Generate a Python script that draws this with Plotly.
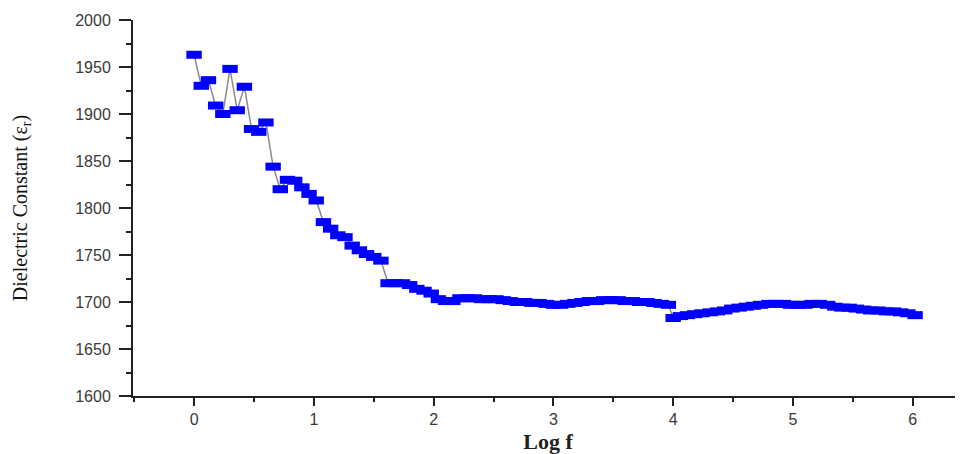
import plotly.graph_objects as go

# Log f values (first sweep up to 10 kHz, second sweep from 10 kHz)
log_f_low = [0.00, 0.06, 0.12, 0.18, 0.24, 0.30, 0.36, 0.42, 0.48, 0.54,
             0.60, 0.66, 0.72, 0.78, 0.84, 0.90, 0.96, 1.02, 1.08, 1.14,
             1.20, 1.26, 1.32, 1.38, 1.44, 1.50, 1.56, 1.62, 1.68, 1.74,
             1.80, 1.86, 1.92, 1.98, 2.04, 2.10, 2.16, 2.22, 2.28, 2.34,
             2.40, 2.46, 2.52, 2.58, 2.64, 2.70, 2.76, 2.82, 2.88, 2.94,
             3.00, 3.06, 3.12, 3.18, 3.24, 3.30, 3.36, 3.42, 3.48, 3.54,
             3.60, 3.66, 3.72, 3.78, 3.84, 3.90, 3.96]
eps_low = [1963, 1930, 1936, 1909, 1900, 1948, 1904, 1929, 1884, 1881,
           1891, 1844, 1820, 1830, 1829, 1822, 1815, 1808, 1785, 1778,
           1771, 1769, 1760, 1755, 1751, 1748, 1744, 1720, 1720, 1720,
           1718, 1714, 1712, 1709, 1703, 1701, 1701, 1704, 1704, 1704,
           1703, 1703, 1703, 1702, 1701, 1700, 1700, 1699, 1699, 1698,
           1697, 1697, 1698, 1699, 1700, 1701, 1701, 1702, 1702, 1702,
           1701, 1701, 1700, 1700, 1699, 1698, 1697]

log_f_high = [4.00, 4.06, 4.12, 4.18, 4.24, 4.31, 4.37, 4.43, 4.49, 4.55,
              4.61, 4.67, 4.73, 4.80, 4.86, 4.92, 4.98, 5.04, 5.10, 5.16,
              5.22, 5.29, 5.35, 5.41, 5.47, 5.53, 5.59, 5.65, 5.71, 5.78,
              5.84, 5.90, 5.96, 6.02]
eps_high = [1683, 1685, 1686, 1687, 1688, 1689, 1690, 1691, 1693, 1694,
            1695, 1696, 1697, 1698, 1698, 1698, 1697, 1697, 1697, 1698,
            1698, 1697, 1695, 1694, 1694, 1693, 1692, 1691, 1691, 1690,
            1690, 1689, 1688, 1686]

x_ticks = [0, 1, 2, 3, 4, 5, 6]
y_ticks = [1600, 1650, 1700, 1750, 1800, 1850, 1900, 1950, 2000]

x_all = log_f_low + log_f_high
y_all = eps_low + eps_high

fig = go.Figure()
fig.add_trace(go.Scatter(
    x=x_all, y=y_all, mode="lines",
    line=dict(color="#8a8a8a", width=1.5),
    showlegend=False, hoverinfo="skip"))
fig.add_trace(go.Scatter(
    x=x_all, y=y_all, mode="markers",
    marker=dict(symbol="line-ew", size=11,
                line=dict(color="#0000FF", width=8)),
    showlegend=False))

tick_font = dict(family="Liberation Sans, Arial, sans-serif", size=16, color="#3a3a3a")

fig.update_layout(
    width=955, height=446,
    margin=dict(l=125, r=0, t=12, b=56),
    paper_bgcolor="white", plot_bgcolor="white",
    xaxis=dict(
        range=[-0.51, 6.42], tickvals=x_ticks, ticktext=[str(v) for v in x_ticks],
        showgrid=False, zeroline=False, showline=True, linecolor="#222222", linewidth=2,
        ticks="outside", ticklen=8, tickwidth=2, tickcolor="#222222",
        minor=dict(dtick=0.5, tick0=0, ticks="outside", ticklen=4, tickwidth=2, tickcolor="#222222"),
        tickfont=tick_font,
        title=dict(text="<b>Log f</b>", font=dict(family="Liberation Serif, Times New Roman, serif", size=22, color="#222222"), standoff=10),
    ),
    yaxis=dict(
        range=[1600, 2000], tickvals=y_ticks, ticktext=[str(v) for v in y_ticks],
        showgrid=False, zeroline=False, showline=True, linecolor="#222222", linewidth=2,
        ticks="outside", ticklen=12, tickwidth=2, tickcolor="#222222",
        ticklabelstandoff=5,
        minor=dict(dtick=25, tick0=1600, ticks="outside", ticklen=5, tickwidth=2, tickcolor="#222222"),
        tickfont=tick_font,
        title=dict(text="Dielectric Constant (ε<sub>r</sub>)", font=dict(family="Liberation Serif, Times New Roman, serif", size=20, color="#111111"), standoff=42),
    ),
)

fig.write_html("out.html")
